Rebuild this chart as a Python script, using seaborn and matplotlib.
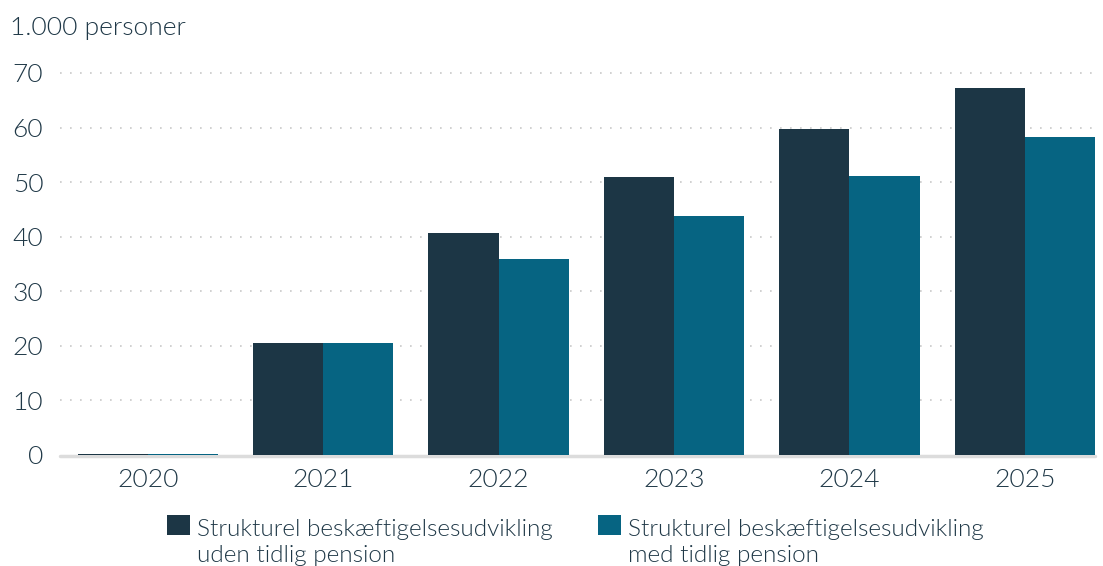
import matplotlib
matplotlib.use("Agg")
import matplotlib.pyplot as plt
from matplotlib.patches import Patch, Rectangle
from matplotlib.legend_handler import HandlerPatch
import seaborn as sns
import pandas as pd

# Structural employment growth, 1,000 persons
years = ["2020", "2021", "2022", "2023", "2024", "2025"]
uden_tidlig = [0.2, 20.5, 40.7, 51.0, 59.8, 67.3]
med_tidlig = [0.2, 20.5, 35.9, 43.8, 51.1, 58.3]
series_labels = [
    "Strukturel beskæftigelsesudvikling\nuden tidlig pension",
    "Strukturel beskæftigelsesudvikling\nmed tidlig pension",
]
yticks = [0, 10, 20, 30, 40, 50, 60, 70]
unit_label = "1.000 personer"

dark = "#1c3645"
teal = "#066482"
text_col = "#1f3847"

sns.set_theme(style="white")
plt.rcParams["font.family"] = ["Lato", "DejaVu Sans"]
plt.rcParams["font.weight"] = 300

df = pd.DataFrame({
    "year": years * 2,
    "value": uden_tidlig + med_tidlig,
    "series": [series_labels[0]] * len(years) + [series_labels[1]] * len(years),
})

fig = plt.figure(figsize=(11.03, 5.66), dpi=100)
ax = fig.add_axes([60 / 1103, 1 - 455 / 566, 1035 / 1103, 382 / 566])

sns.barplot(data=df, x="year", y="value", hue="series", order=years,
            hue_order=series_labels, palette=[dark, teal], width=0.8,
            saturation=1, linewidth=0, ax=ax, legend=False, zorder=2)

ax.set_xlim(-0.5, 5.4)
ax.set_ylim(0, 70)
ax.set_yticks(yticks)
ax.set_yticklabels([str(t) for t in yticks])
ax.set_xlabel("")
ax.set_ylabel("")

for t in yticks[1:]:
    ax.axhline(t, color="#c8c8c8", linewidth=1.2, linestyle=(0, (1, 5)), zorder=0, clip_on=False)
ax.axhline(-0.2, color="#dcdcdc", linewidth=2.5, zorder=1, clip_on=False)

for s in ax.spines.values():
    s.set_visible(False)
ax.tick_params(axis="both", length=0, labelsize=19, labelcolor=text_col)
ax.tick_params(axis="y", pad=12)
ax.tick_params(axis="x", pad=9.5)
for lab in ax.get_xticklabels() + ax.get_yticklabels():
    lab.set_fontweight(300)

fig.text(10 / 1103, 1 - 28 / 566, unit_label, fontsize=19, color=text_col,
         va="center", ha="left", fontweight=300)


def top_aligned_square(legend, orig_handle, xdescent, ydescent, width, height, fontsize):
    # place the swatch level with the first line of a two-line label
    return Rectangle((-xdescent, -ydescent + 0.73 * fontsize), width, height)


handles = [Patch(facecolor=dark, edgecolor="none"), Patch(facecolor=teal, edgecolor="none")]
leg = fig.legend(handles, series_labels, loc="upper left", ncol=2,
                 bbox_to_anchor=(148 / 1103, 1 - 500 / 566), frameon=False,
                 handlelength=0.93, handleheight=0.93, handletextpad=0.3,
                 columnspacing=1.86, labelspacing=0.2, borderpad=0.3,
                 prop={"size": 17.5, "weight": 300},
                 handler_map={Patch: HandlerPatch(patch_func=top_aligned_square)})
for t in leg.get_texts():
    t.set_color(text_col)
    t.set_linespacing(1.25)

fig.savefig("out.png", dpi=100)
